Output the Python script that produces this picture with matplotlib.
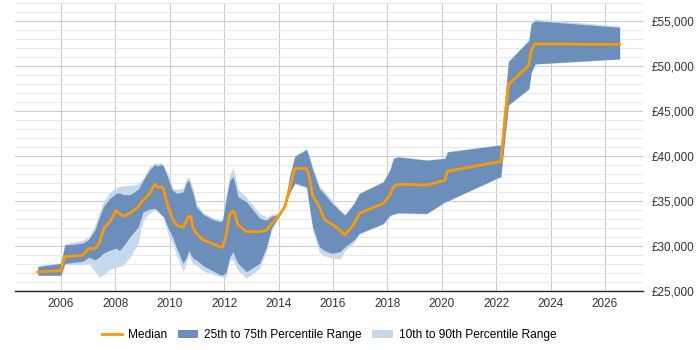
import matplotlib.pyplot as plt
from matplotlib.ticker import FuncFormatter, MultipleLocator

plt.rcParams['font.family'] = ['Liberation Sans', 'DejaVu Sans']

# time points (decimal years) and salary percentiles
years = [2005.15, 2006.0, 2006.14, 2006.8, 2007.03, 2007.25, 2007.42, 2007.57, 2007.8,
         2008.03, 2008.15, 2008.3, 2008.53, 2008.84, 2009.02, 2009.27, 2009.45, 2009.57,
         2009.7, 2009.76, 2009.94, 2010.1, 2010.25, 2010.49, 2010.62, 2010.7, 2010.78,
         2010.86, 2010.98, 2011.23, 2011.54, 2011.84, 2011.94, 2012.06, 2012.21, 2012.33,
         2012.39, 2012.51, 2012.82, 2013.31, 2013.56, 2013.74, 2014.02, 2014.23, 2014.39,
         2014.6, 2015.03, 2015.13, 2015.25, 2015.5, 2015.68, 2015.95, 2016.26, 2016.44,
         2016.77, 2016.97, 2017.85, 2018.1, 2018.22, 2018.4, 2019.45, 2020.12, 2020.21,
         2022.08, 2022.17, 2022.45, 2023.2, 2023.29, 2023.43, 2026.54]

median = [27100, 27250, 28800, 28950, 29700, 29700, 30350, 31900, 32700,
          33950, 33600, 33320, 33620, 34350, 35090, 35830, 36870, 36500,
          36560, 36390, 34350, 33060, 32320, 32060, 32870, 33320, 33240,
          31950, 31400, 30650, 30290, 29910, 29840, 31020, 33620, 33870,
          33620, 32320, 31580, 31580, 31770, 32430, 33430, 34350, 36200,
          38610, 38610, 37680, 35650, 34350, 32950, 32430, 31770, 31210,
          32430, 33620, 34730, 35650, 36560, 36870, 36760, 37310, 38310,
          39350, 39390, 47960, 50060, 51730, 52470, 52400]

p25 = [26750, 26750, 28050, 28300, 28750, 28450, 28800, 29200, 29550,
       29740, 29480, 30000, 31000, 32100, 33800, 34100, 34170, 33900,
       33430, 33300, 32000, 31000, 29800, 28070, 28800, 29550, 29000,
       28600, 28440, 27800, 27300, 26800, 26770, 27000, 28800, 29360,
       28800, 28070, 27140, 28070, 29910, 32000, 33300, 34300, 35800,
       37010, 36560, 34500, 32130, 29910, 29500, 29180, 29360, 29910,
       30660, 31400, 32500, 33430, 33550, 33690, 33620, 34900, 35000,
       37610, 37680, 45700, 47480, 49320, 50250, 50810]

p75 = [27700, 28050, 30100, 30300, 30750, 31800, 33250, 34400, 35300,
       35850, 35900, 35700, 35700, 36300, 37300, 38500, 39050, 38900,
       39080, 38900, 37500, 36200, 35850, 36000, 37100, 37310, 36500,
       35800, 34350, 33500, 33000, 32690, 32870, 35000, 37310, 37700,
       37000, 35460, 34900, 33060, 32870, 33300, 33500, 34400, 37500,
       39970, 40710, 39800, 38500, 36400, 35800, 34800, 33900, 33430,
       34700, 35830, 37120, 38500, 39720, 39890, 39530, 39720, 40450,
       41190, 41190, 50500, 52840, 54690, 55050, 54310]

p10 = [26700, 26700, 27950, 27900, 28050, 27150, 26500, 26800, 27400,
       27650, 27700, 27900, 28700, 30300, 32870, 33700, 33980, 33700,
       33430, 33300, 31300, 30290, 29000, 27140, 28200, 28990, 28400,
       28000, 27880, 27200, 26900, 26600, 26500, 26410, 28440, 28440,
       28000, 27300, 26410, 27520, 29500, 31700, 33200, 34200, 35700,
       36900, 36400, 34200, 31800, 29300, 28900, 28700, 28520, 29500,
       30300, 31300, 32400, 33300, 33450, 33600, 33550, 34850, 34950,
       37550, 37650, 45600, 47400, 49250, 50200, 50750]

p90 = [27800, 28150, 30200, 30650, 31000, 32300, 33800, 35000, 36000,
       36500, 36600, 36700, 36750, 36900, 37500, 38900, 39200, 39200,
       39230, 39000, 38000, 36400, 36300, 36400, 37500, 37700, 37000,
       36400, 34730, 33700, 33200, 32870, 32900, 35500, 38000, 38610,
       38000, 36300, 35400, 33600, 33200, 33500, 33600, 34500, 37700,
       40100, 40800, 40000, 38800, 36700, 36100, 35100, 34000, 33500,
       34800, 35900, 37200, 38600, 39800, 39950, 39600, 39800, 40500,
       41250, 41250, 50600, 52950, 54850, 55250, 54450]

fig = plt.figure(figsize=(7, 3.5), dpi=100)
ax = fig.add_axes([0.021, 0.169, 0.898, 0.822])

ax.fill_between(years, p10, p90, color='#c6d9ec', lw=0, label='10th to 90th Percentile Range')
ax.fill_between(years, p25, p75, color='#6b8fba', lw=0, label='25th to 75th Percentile Range')
ax.plot(years, median, color='#ff9900', lw=2, label='Median')

ax.set_xlim(2004.3, 2027.41)
ax.set_ylim(25000, 57000)
ax.xaxis.set_major_locator(MultipleLocator(2))
ax.yaxis.set_major_locator(MultipleLocator(5000))
ax.yaxis.set_minor_locator(MultipleLocator(1000))
ax.yaxis.set_major_formatter(FuncFormatter(lambda v, p: '£{:,.0f}'.format(v)))
ax.yaxis.tick_right()

ax.grid(True, which='major', color='#cccccc', lw=0.8)
ax.grid(True, which='minor', axis='y', color='#e8e8e8', lw=0.8)
ax.set_axisbelow(True)

for s in ['left', 'right', 'top']:
    ax.spines[s].set_visible(False)
ax.spines['bottom'].set_color('#222222')
ax.spines['bottom'].set_linewidth(1)
ax.tick_params(axis='both', which='both', length=0, labelsize=8.5, colors='#333333')
ax.tick_params(axis='y', pad=6)
ax.tick_params(axis='x', pad=5)

h, l = ax.get_legend_handles_labels()
order = [2, 1, 0]
ax.legend([h[i] for i in order], [l[i] for i in order], loc='upper center',
          bbox_to_anchor=(0.5, -0.095), ncol=3, frameon=False, fontsize=8.6,
          handlelength=1.7, handletextpad=0.5, columnspacing=0.9)

fig.savefig('out.png', dpi=100)
